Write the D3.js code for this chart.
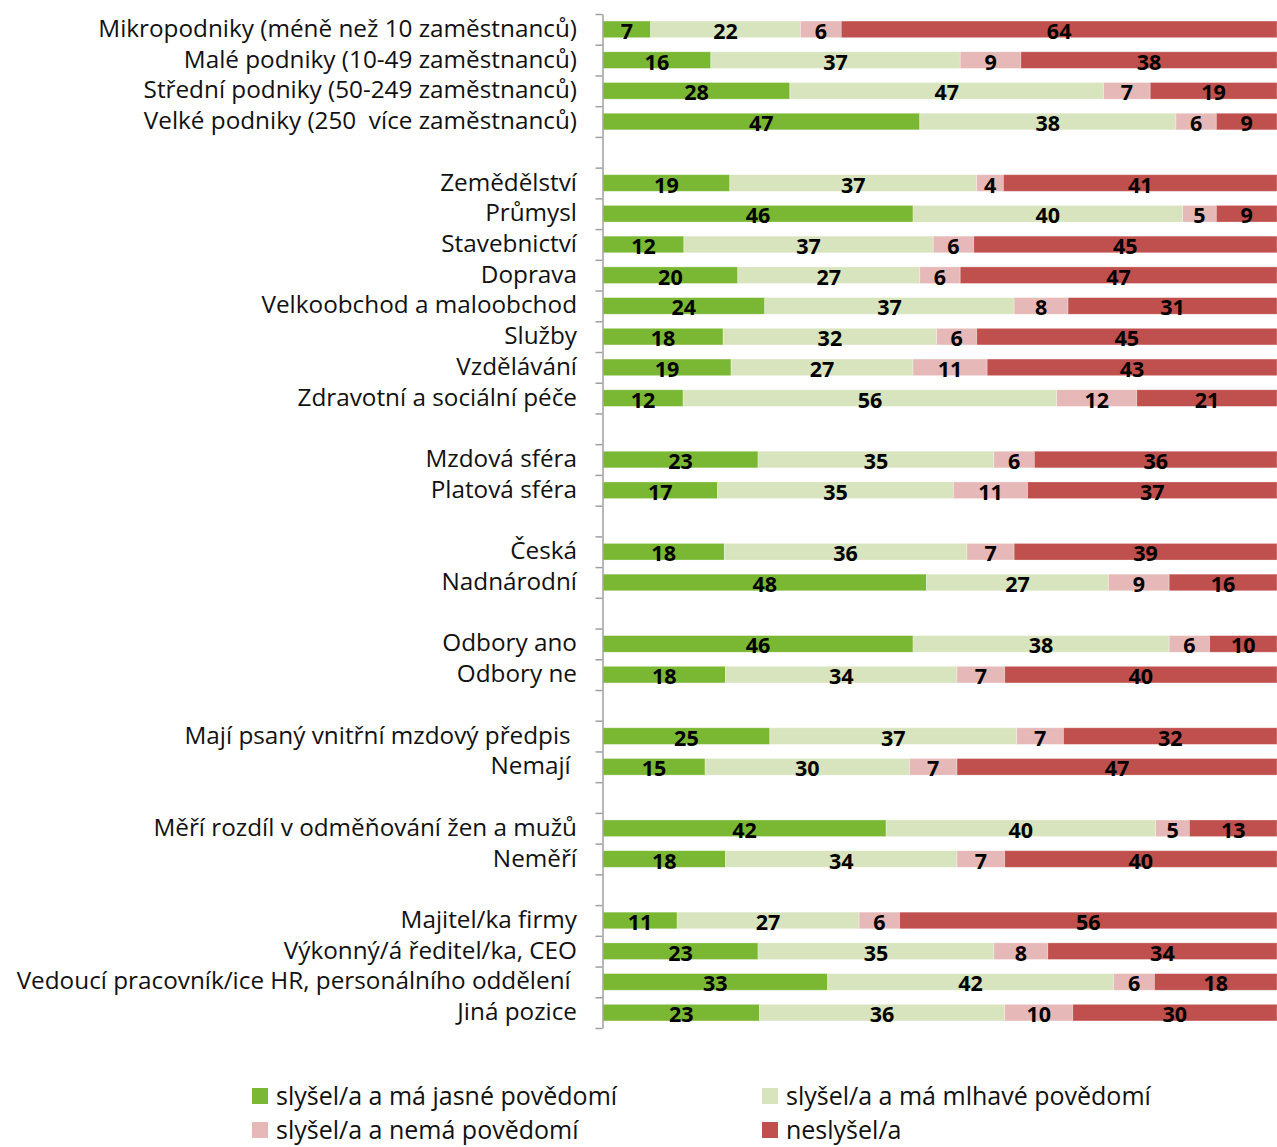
<!DOCTYPE html>
<html>
<head>
<meta charset="utf-8">
<script src="https://cdn.jsdelivr.net/npm/d3@7"></script>
<style>
  html, body { margin: 0; padding: 0; background: #fff; }
  svg { display: block; }
  text { font-family: "Open Sans", "Noto Sans", sans-serif; }
</style>
</head>
<body>
<svg id="chart" width="1277" height="1147"></svg>
<script>
// Row labels, top to bottom; null marks an empty spacer row between groups
const categories = [
  "Mikropodniky (méně než 10 zaměstnanců)",
  "Malé podniky (10-49 zaměstnanců)",
  "Střední podniky (50-249 zaměstnanců)",
  "Velké podniky (250  více zaměstnanců)",
  null,
  "Zemědělství",
  "Průmysl",
  "Stavebnictví",
  "Doprava",
  "Velkoobchod a maloobchod",
  "Služby",
  "Vzdělávání",
  "Zdravotní a sociální péče",
  null,
  "Mzdová sféra",
  "Platová sféra",
  null,
  "Česká",
  "Nadnárodní",
  null,
  "Odbory ano",
  "Odbory ne",
  null,
  "Mají psaný vnitřní mzdový předpis\u00a0",
  "Nemají\u00a0",
  null,
  "Měří rozdíl v odměňování žen a mužů",
  "Neměří",
  null,
  "Majitel/ka firmy",
  "Výkonný/á ředitel/ka, CEO",
  "Vedoucí pracovník/ice HR, personálního oddělení\u00a0",
  "Jiná pozice"
];

const seriesNames = [
  "slyšel/a a má jasné povědomí",
  "slyšel/a a má mlhavé povědomí",
  "slyšel/a a nemá povědomí",
  "neslyšel/a"
];

// Percent values per row for each series (null for spacer rows)
const jasne = [7, 16, 28, 47, null, 19, 46, 12, 20, 24, 18, 19, 12, null, 23, 17, null, 18, 48, null, 46, 18, null, 25, 15, null, 42, 18, null, 11, 23, 33, 23];
const mlhave = [22, 37, 47, 38, null, 37, 40, 37, 27, 37, 32, 27, 56, null, 35, 35, null, 36, 27, null, 38, 34, null, 37, 30, null, 40, 34, null, 27, 35, 42, 36];
const nema = [6, 9, 7, 6, null, 4, 5, 6, 6, 8, 6, 11, 12, null, 6, 11, null, 7, 9, null, 6, 7, null, 7, 7, null, 5, 7, null, 6, 8, 6, 10];
const neslysel = [64, 38, 19, 9, null, 41, 9, 45, 47, 31, 45, 43, 21, null, 36, 37, null, 39, 16, null, 10, 40, null, 32, 47, null, 13, 40, null, 56, 34, 18, 30];

const colors = ["#7ab833", "#d8e4bd", "#e6b9b8", "#c0504d"];

const rows = categories.map((name, i) => ({
  i, name,
  values: [jasne[i], mlhave[i], nema[i], neslysel[i]]
}));

const svg = d3.select("#chart");
const plotLeft = 603, plotRight = 1277, plotTop = 14, plotBottom = 1028;

const y = d3.scaleBand()
  .domain(rows.map(r => r.i))
  .range([plotTop, plotBottom])
  .paddingInner(0.46)
  .paddingOuter(0.23);

const yIdx = d3.scaleLinear().domain([0, rows.length]).range([plotTop, plotBottom]);
const x = d3.scaleLinear().domain([0, 1]).range([plotLeft, plotRight]);

// Bars: each row is normalised to 100 %
const barG = svg.append("g");
rows.filter(r => r.name !== null).forEach(r => {
  const total = d3.sum(r.values);
  let acc = 0;
  r.values.forEach((v, k) => {
    const x0 = x(acc / total), x1 = x((acc + v) / total);
    acc += v;
    barG.append("rect")
      .attr("x", x0).attr("y", y(r.i))
      .attr("width", x1 - x0).attr("height", y.bandwidth())
      .attr("fill", colors[k])
      .attr("stroke", "#fff").attr("stroke-opacity", 0.35).attr("stroke-width", 0.8);
    barG.append("text")
      .attr("x", (x0 + x1) / 2)
      .attr("y", y(r.i) + y.bandwidth() / 2 + 2)
      .attr("dy", "0.35em")
      .attr("text-anchor", "middle")
      .attr("font-size", 21.5).attr("font-weight", 700).attr("fill", "#000")
      .text(v);
  });
});

// Left axis with ticks at row boundaries
const axis = d3.axisLeft(yIdx)
  .tickValues(d3.range(0, rows.length + 1))
  .tickSize(7).tickSizeOuter(0).tickFormat("");
const axG = svg.append("g").attr("transform", `translate(${plotLeft - 0.5},0)`).call(axis);
axG.selectAll("path, line").attr("stroke", "#a0a0a0").attr("stroke-width", 1.5);

// Category labels
svg.append("g").selectAll("text")
  .data(rows.filter(r => r.name !== null))
  .join("text")
  .attr("x", 577)
  .attr("y", r => y(r.i) + y.bandwidth() / 2 - 1)
  .attr("dy", "0.35em")
  .attr("text-anchor", "end")
  .attr("font-size", 24.3)
  .attr("fill", "#111")
  .style("white-space", "pre")
  .text(r => r.name);

// Legend, two columns
const legend = svg.append("g");
const legPos = [[252, 1096], [762, 1096], [252, 1130], [762, 1130]];
seriesNames.forEach((s, k) => {
  const [lx, ly] = legPos[k];
  legend.append("rect").attr("x", lx).attr("y", ly - 8).attr("width", 16).attr("height", 16).attr("fill", colors[k]);
  legend.append("text").attr("x", lx + 24).attr("y", ly).attr("dy", "0.35em")
    .attr("font-size", 25).attr("fill", "#111").text(s);
});
</script>
</body>
</html>
